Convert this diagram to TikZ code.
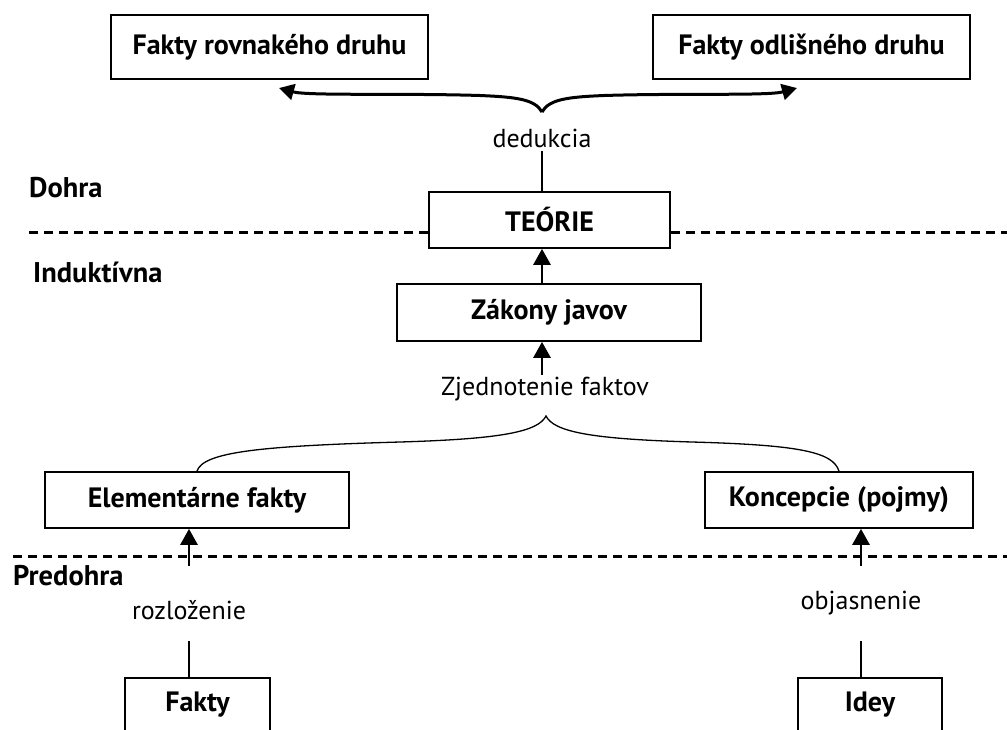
\documentclass[tikz,border=0pt]{standalone}
\usepackage{fontspec}
\setmainfont{PT Sans}
\usetikzlibrary{arrows.meta}
\begin{document}
\begin{tikzpicture}[x=1pt,y=-1pt,
	every node/.style={font=\fontsize{26}{30}\selectfont},
	box/.style={draw,rectangle,line width=1.7pt,inner sep=0pt,font=\fontsize{28}{32}\selectfont\bfseries},
	cutbox/.style={box,text height=34pt,text depth=70pt},
	level/.style={anchor=west,inner sep=0pt,font=\fontsize{28.5}{32}\selectfont\bfseries},
	uparrow/.style={line width=2.8pt,-{Triangle[length=16pt,width=17pt]}},
	bracearrow/.style={line width=3pt,-{Triangle[length=15pt,width=16pt]}},
	thinline/.style={line width=1.3pt},
	divider/.style={line width=3pt,dash pattern=on 9pt off 6pt}]
		\clip (0,0) rectangle (1007,729);
		\node[box,minimum width=317pt,minimum height=64pt] (rovnake) at (269.5,47) {Fakty rovnakého druhu};
		\node[box,minimum width=317pt,minimum height=64pt] (odlisne) at (811.5,47) {Fakty odlišného druhu};
		\node (dedukcia) at (542,138) {dedukcia};
		\node[level] (dohra) at (29,188) {Dohra};
		\node[box,minimum width=241pt,minimum height=56pt] (teorie) at (549.5,220) {TEÓRIE};
		\node[level] (induktivna) at (33,272) {Induktívna};
		\node[box,minimum width=304pt,minimum height=57pt] (zakony) at (549,312.5) {Zákony javov};
		\node (zjednotenie) at (545,389) {Zjednotenie faktov};
		\node[box,minimum width=304pt,minimum height=56pt] (elementarne) at (197,500) {Elementárne fakty};
		\node[box,minimum width=268pt,minimum height=56pt] (koncepcie) at (839,500) {Koncepcie (pojmy)};
		\node[level] (predohra) at (13,576) {Predohra};
		\node (rozlozenie) at (189,610) {rozloženie};
		\node (objasnenie) at (861,603) {objasnenie};
		\node[cutbox,minimum width=145pt,anchor=north] (fakty) at (197.5,677) {Fakty};
		\node[cutbox,minimum width=144pt,anchor=north] (idey) at (870,677) {Idey};
		
		\coordinate (ded-cusp) at (542,112);
		\coordinate (rov-tip) at (279,88);
		\coordinate (odl-tip) at (797,88);
		\coordinate (zj-cusp) at (546,416);
		\coordinate (zj-top) at (542,375);
		\coordinate (el-in) at (189,566);
		\coordinate (ko-in) at (861,566);
		\coordinate (fk-out) at (189,641);
		\coordinate (id-out) at (861,641);
		\coordinate (dohra-line) at (29,232);
		\coordinate (dohra-end) at (1007,232);
		\coordinate (pred-line) at (13,556);
		\coordinate (pred-end) at (1007,556);
		
		\draw[divider] (dohra-line) -- (dohra-line -| teorie.west);
		\draw[divider] (dohra-end -| teorie.east) -- (dohra-end);
		\draw[divider] (pred-line) -- (pred-end);
		
		\draw[bracearrow] (ded-cusp) .. controls (535,99) and (515,97) .. (480,95.5) .. controls (400,93) and (308,96) .. (rov-tip);
		\draw[bracearrow] (ded-cusp) .. controls (549,99) and (569,97) .. (604,95.5) .. controls (684,93) and (768,96) .. (odl-tip);
		\draw[thinline] (dedukcia) -- (dedukcia |- teorie.north);
		\draw[uparrow] (zakony.north -| dedukcia) -- (teorie.south -| dedukcia);
		\draw[uparrow] (zj-top) -- (zj-top |- zakony.south);
		\draw[thinline] (elementarne.north) .. controls (203,452) and (260,446) .. (400,442) .. controls (500,439) and (538,432) .. (zj-cusp)
			.. controls (554,432) and (592,439) .. (692,442) .. controls (800,445) and (833,452) .. (koncepcie.north);
		\draw[uparrow] (el-in) -- (el-in |- elementarne.south);
		\draw[uparrow] (ko-in) -- (ko-in |- koncepcie.south);
		\draw[thinline] (fk-out) -- (fk-out |- fakty.north);
		\draw[thinline] (id-out) -- (id-out |- idey.north);
	\end{tikzpicture}
\end{document}
